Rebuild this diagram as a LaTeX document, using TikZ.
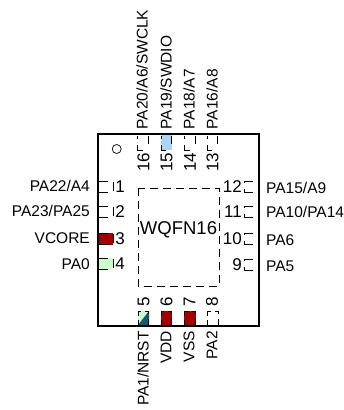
\documentclass[tikz,border=0pt]{standalone}
\usepackage{fontspec}
\setmainfont{Liberation Sans}
\definecolor{pwr}{RGB}{160,0,0}
\definecolor{lg}{RGB}{204,255,204}
\definecolor{lb}{RGB}{170,212,248}
\definecolor{tealx}{RGB}{20,90,110}
\begin{document}
\begin{tikzpicture}[x=1pt,y=-1pt,
 lab/.style={inner sep=0pt,font=\fontsize{15.5}{17}\selectfont},
 num/.style={inner sep=0pt,font=\fontsize{17}{19}\selectfont},
 pinline/.style={line width=0.7pt,black}]
\useasboundingbox (0,0) rectangle (344,410);
% pin fills
\fill[pwr] (98,233) rectangle (113,245);
\fill[lg] (98,258) rectangle (113,269);
\fill[lb] (161,135) rectangle (172,150);
\fill[lg] (138,311) rectangle (149,325);
\fill[tealx] (138,325) -- (149,311) -- (149,325) -- cycle;
\fill[pwr] (161,311) rectangle (172,325);
\fill[pwr] (184,311) rectangle (196,325);
% chip
\draw[line width=2pt] (98,134) rectangle (259,325.5);
\draw[line width=0.8pt,dash pattern=on 8pt off 5pt] (138,188) rectangle (219,286);
\node[inner sep=0pt,font=\fontsize{18.5}{20}\selectfont] (wq) at (178.5,230) {WQFN16};
\node[draw,circle,line width=0.7pt,minimum size=9pt,inner sep=0pt] (dot) at (116.7,149) {};
% left pins
\foreach \y in {181,206,233,258}{
 \draw[pinline] (98,\y) -- (108,\y) (113.5,\y+1) -- (113.5,\y+10) (98,\y+11) -- (108,\y+11);}
\node[num] (p1) at (120,186.5) {1};
\node[num] (p2) at (120,211.5) {2};
\node[num] (p3) at (120,239) {3};
\node[num] (p4) at (120,264) {4};
\node[lab,anchor=east] (l1) at (90,186) {PA22/A4};
\node[lab,anchor=east] (l2) at (90,211) {PA23/PA25};
\node[lab,anchor=east] (l3) at (90,238.5) {VCORE};
\node[lab,anchor=east] (l4) at (90,264) {PA0};
% right pins
\foreach \y in {181,206,233,259}{
 \draw[pinline] (253,\y) -- (244,\y) -- (244,\y+1.5) (244,\y+8) -- (244,\y+11) -- (253,\y+11);}
\node[num,anchor=east] (p12) at (242,187) {12};
\node[num,anchor=east] (p11) at (242,212) {11};
\node[num,anchor=east] (p10) at (242,239) {10};
\node[num,anchor=east] (p9) at (242,265) {9};
\node[lab,anchor=west] (r1) at (266,187.5) {PA15/A9};
\node[lab,anchor=west] (r2) at (266,211.5) {PA10/PA14};
\node[lab,anchor=west] (r3) at (266,240) {PA6};
\node[lab,anchor=west] (r4) at (266,266) {PA5};
% top pins
\foreach \x in {137.5,161,184.5,207}{
 \draw[pinline] (\x,136) -- (\x,139) (\x,145) -- (\x,150) -- (\x+5,150) (\x+10.5,136) -- (\x+10.5,144);}
\node[num,rotate=90] (p16) at (143.5,162) {16};
\node[num,rotate=90] (p15) at (166.5,162) {15};
\node[num,rotate=90] (p14) at (190,162) {14};
\node[num,rotate=90] (p13) at (212.5,162) {13};
\node[lab,rotate=90,anchor=west] (t1) at (142,129.5) {PA20/A6/SWCLK};
\node[lab,rotate=90,anchor=west] (t2) at (166,129.5) {PA19/SWDIO};
\node[lab,rotate=90,anchor=west] (t3) at (189,129.5) {PA18/A7};
\node[lab,rotate=90,anchor=west] (t4) at (212,129.5) {PA16/A8};
% bottom pins
\foreach \x in {138,161,184.5,207.5}{
 \draw[pinline] (\x,325) -- (\x,320) (\x,316) -- (\x,311) -- (\x+3,311) (\x+7,311) -- (\x+10.5,311) -- (\x+10.5,314) (\x+10.5,319) -- (\x+10.5,325);}
\node[num,rotate=90] (p5) at (143.5,301.5) {5};
\node[num,rotate=90] (p6) at (166.5,301.5) {6};
\node[num,rotate=90] (p7) at (189.5,301.5) {7};
\node[num,rotate=90] (p8) at (212,301.5) {8};
\node[lab,rotate=90,anchor=east] (b1) at (143,331) {PA1/NRST};
\node[lab,rotate=90,anchor=east] (b2) at (166,331) {VDD};
\node[lab,rotate=90,anchor=east] (b3) at (189,331) {VSS};
\node[lab,rotate=90,anchor=east] (b4) at (212,331) {PA2};
\end{tikzpicture}
\end{document}
